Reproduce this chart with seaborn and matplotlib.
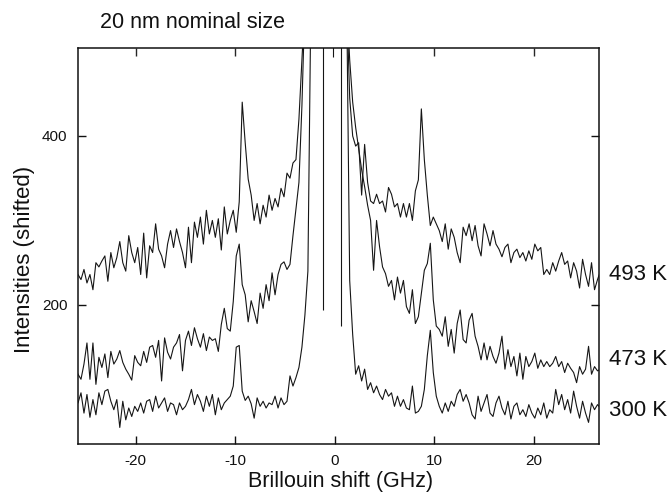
import numpy as np
import pandas as pd
import seaborn as sns
import matplotlib
matplotlib.use("Agg")
import matplotlib.pyplot as plt

# Brillouin shift grid (GHz), 0.3 GHz sampling
shift_ghz = np.round(np.linspace(-26.1, 26.7, 177), 2)

# Intensities (shifted); 560 = off-scale elastic peak
i_493 = [240, 236, 230, 242, 226, 236, 218, 250, 245, 252,
         258, 228, 262, 244, 256, 275, 250, 240, 282, 262,
         250, 268, 236, 285, 232, 270, 262, 296, 266, 258,
         244, 272, 288, 268, 290, 275, 262, 244, 292, 250,
         298, 280, 304, 272, 312, 284, 300, 280, 302, 265,
         316, 284, 300, 312, 286, 322, 440, 392, 349, 330,
         300, 320, 296, 318, 304, 330, 312, 326, 316, 338,
         328, 356, 350, 368, 372, 420, 490, 560, 560, 560,
         560, 560, 560, 560, 560, 560, 560, 560, 560, 560,
         560, 560, 445, 400, 388, 392, 330, 390, 345, 323,
         320, 331, 320, 323, 310, 339, 331, 316, 320, 304,
         320, 304, 320, 300, 335, 348, 432, 372, 330, 294,
         304, 296, 288, 275, 296, 266, 290, 280, 262, 250,
         292, 282, 296, 276, 294, 270, 258, 296, 284, 270,
         288, 272, 266, 257, 268, 272, 250, 262, 266, 256,
         262, 252, 264, 254, 272, 264, 268, 236, 242, 236,
         250, 240, 252, 262, 248, 252, 232, 250, 240, 220,
         254, 236, 222, 250, 218, 230, 240]

i_473 = [125, 118, 112, 130, 155, 112, 155, 106, 138, 126,
         142, 114, 145, 130, 136, 146, 132, 124, 118, 111,
         140, 132, 128, 145, 132, 150, 152, 138, 158, 110,
         161, 144, 136, 150, 155, 165, 122, 158, 169, 152,
         173, 160, 150, 166, 146, 162, 158, 160, 145, 177,
         196, 172, 169, 204, 258, 272, 224, 212, 180, 205,
         192, 178, 214, 196, 224, 205, 238, 212, 236, 248,
         251, 242, 248, 282, 314, 345, 436, 560, 560, 560,
         560, 560, 560, 560, 560, 560, 560, 560, 560, 560,
         560, 560, 490, 440, 410, 385, 360, 340, 318, 300,
         241, 300, 269, 245, 237, 222, 229, 206, 233, 214,
         229, 198, 190, 218, 178, 186, 214, 241, 249, 273,
         206, 175, 171, 163, 186, 151, 171, 143, 178, 194,
         159, 155, 182, 190, 163, 151, 135, 155, 135, 151,
         139, 131, 143, 163, 124, 147, 127, 139, 116, 143,
         112, 139, 127, 133, 143, 125, 135, 127, 133, 127,
         131, 139, 127, 133, 120, 131, 125, 120, 108, 127,
         118, 124, 151, 118, 127, 122, 124]

i_300 = [82, 84, 96, 72, 94, 67, 88, 70, 96, 82,
         98, 100, 86, 76, 88, 55, 86, 64, 78, 68,
         80, 74, 84, 72, 86, 88, 74, 92, 78, 84,
         90, 74, 84, 82, 70, 84, 76, 80, 88, 100,
         82, 94, 86, 74, 92, 80, 94, 70, 90, 76,
         84, 88, 92, 104, 150, 152, 98, 87, 92, 83,
         66, 90, 80, 86, 78, 84, 82, 92, 78, 90,
         82, 86, 116, 104, 114, 126, 150, 188, 240, 560,
         560, 560, 560, 560, 560, 560, 560, 560, 560, 560,
         560, 560, 229, 165, 118, 128, 110, 124, 100, 108,
         96, 104, 94, 88, 100, 92, 96, 80, 92, 80,
         88, 78, 76, 104, 72, 74, 80, 100, 140, 170,
         120, 92, 80, 72, 84, 74, 86, 80, 94, 100,
         86, 94, 84, 70, 65, 92, 74, 84, 94, 72,
         68, 84, 92, 78, 70, 86, 65, 80, 84, 70,
         76, 68, 82, 72, 66, 78, 70, 84, 66, 76,
         72, 100, 82, 94, 76, 88, 72, 98, 80, 66,
         86, 72, 61, 84, 76, 82, 78]

temperatures = ["493 K", "473 K", "300 K"]
label_levels = [236, 135, 75]

# shutter gaps in the central elastic region
gap_x = [-1.2, -0.2, 0.65]
gap_low = [194, 493, 175]

x_ticks = [-20, -10, 0, 10, 20]
y_ticks = [200, 400]

df = pd.concat([
    pd.DataFrame({"shift": shift_ghz, "I": vals, "T": t})
    for t, vals in zip(temperatures, [i_493, i_473, i_300])
], ignore_index=True)

sns.set_theme(style="ticks")
plt.rcParams["font.family"] = ["Liberation Sans", "DejaVu Sans"]

W, H = 671, 499
fig = plt.figure(figsize=(W / 100, H / 100), dpi=100)
ax = fig.add_axes([78 / W, (H - 443.5) / H, 520.5 / W, 395 / H])

sns.lineplot(data=df, x="shift", y="I", hue="T", palette=["#151515"] * 3,
             estimator=None, sort=False, lw=0.8, legend=False, ax=ax)
ax.vlines(gap_x, gap_low, 600, color="#151515", lw=0.8)

ax.set_xlim(-25.8, 26.5)
ax.set_ylim(36, 503.5)
ax.set_xticks(x_ticks)
ax.set_xticklabels([str(v) for v in x_ticks])
ax.set_yticks(y_ticks)
ax.set_yticklabels([str(v) for v in y_ticks])
ax.set_xlabel("")
ax.set_ylabel("")
ax.tick_params(direction="in", length=6, width=1, labelsize=11,
               colors="#111", pad=7.5)
ax.tick_params(axis="y", right=True, labelright=False)

sec = ax.secondary_xaxis("top")
sec.set_xticks([v for v in x_ticks if v != 0])
sec.tick_params(direction="in", length=6, width=1, labeltop=False)
sec.spines["top"].set_visible(False)

for s in ax.spines.values():
    s.set_linewidth(1.1)
    s.set_color("#111")

for t, lv in zip(temperatures, label_levels):
    ax.text(27.6, lv, t, fontsize=16, va="center", ha="left",
            color="#111", clip_on=False)

fig.text(100 / W, 1 - 22 / H, "20 nm nominal size", fontsize=15.5,
         ha="left", va="center", color="#111")
fig.text(341 / W, 1 - 482 / H, "Brillouin shift (GHz)", fontsize=15.5,
         ha="center", va="center", color="#111")
fig.text(25 / W, 1 - 259 / H, "Intensities (shifted)", fontsize=16,
         ha="center", va="center", rotation=90, color="#111")

fig.savefig("out.png", dpi=100, facecolor="white")
